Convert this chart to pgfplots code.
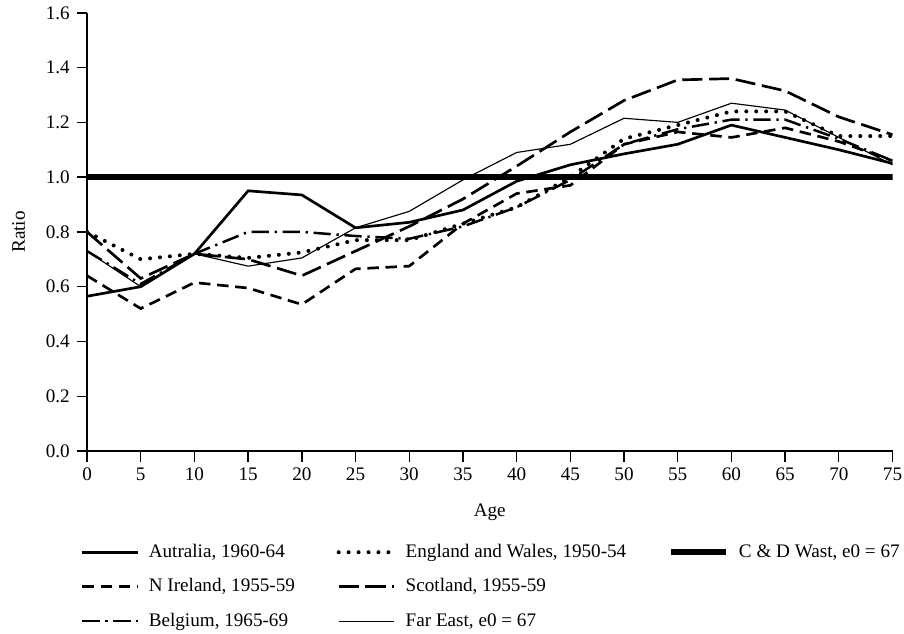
\documentclass[border=0pt]{standalone}
\usepackage{fontspec}
\setmainfont{Liberation Serif}
\usepackage{pgfplots}
\usepackage{pgfplotstable}
\pgfplotsset{compat=1.18}

% Ratio of age-specific rates to the reference pattern, by age group
\pgfplotstableread{
age  aus    eng    nir    sco    bel    fe
0    0.565  0.80   0.64   0.80   0.73   0.73
5    0.60   0.70   0.52   0.63   0.61   0.60
10   0.72   0.72   0.615  0.72   0.72   0.72
15   0.95   0.705  0.595  0.70   0.80   0.675
20   0.935  0.725  0.535  0.64   0.80   0.705
25   0.815  0.77   0.665  0.73   0.785  0.815
30   0.835  0.77   0.675  0.82   0.775  0.875
35   0.88   0.83   0.83   0.92   0.82   0.99
40   0.985  0.89   0.94   1.04   0.89   1.09
45   1.045  1.00   0.97   1.165  0.99   1.12
50   1.085  1.14   1.12   1.28   1.12   1.215
55   1.12   1.19   1.165  1.355  1.175  1.20
60   1.19   1.24   1.145  1.36   1.21   1.27
65   1.145  1.24   1.18   1.315  1.21   1.245
70   1.10   1.15   1.13   1.22   1.14   1.145
75   1.05   1.15   1.06   1.155  1.06   1.045
}\ratios

\begin{document}
\begin{tikzpicture}
\begin{axis}[
  scale only axis,
  width=421pt, height=229pt,
  xmin=0, xmax=75, ymin=0, ymax=1.6,
  axis lines=left,
  axis line style={-, line width=0.7pt},
  xtick={0,5,...,75},
  ytick={0,0.2,0.4,0.6,0.8,1.0,1.2,1.4,1.6},
  tick align=outside,
  major tick length=5.5pt,
  tick style={line width=0.7pt, black},
  /pgf/number format/assume math mode=true,
  xticklabel style={inner xsep=1pt},
  yticklabel style={/pgf/number format/.cd, fixed, fixed zerofill, precision=1},
  xlabel={Age}, ylabel={Ratio},
  xlabel style={yshift=-5pt},
  ylabel style={yshift=4pt},
  legend columns=3,
  legend cell align=left,
  legend image code/.code={\draw[#1] (0pt,0pt) -- (29pt,0pt);},
  legend style={
    at={(0,0)}, anchor=north west, yshift=-46.5pt, xshift=-3.3pt,
    draw=none, fill=none, inner sep=0pt,
    row sep=5.6pt,
    /tikz/every odd column/.append style={column sep=3pt},
    /tikz/every even column/.append style={column sep=19.8pt},
  },
]
\addplot[black, line width=1.4pt] table[x=age, y=aus] {\ratios};
\addlegendentry{Autralia, 1960-64}
\addplot[black, line width=2.1pt, line cap=round, dash pattern=on 0pt off 5.2pt] table[x=age, y=eng] {\ratios};
\addlegendentry{England and Wales, 1950-54}
\addplot[black, line width=3.1pt] coordinates {(0,1) (75,1)};
\addlegendentry{C \& D Wast, e0 = 67}
\addplot[black, line width=1.4pt, dash pattern=on 6pt off 3.5pt] table[x=age, y=nir] {\ratios};
\addlegendentry{N Ireland, 1955-59}
\addplot[black, line width=1.4pt, dash pattern=on 10.5pt off 3.5pt] table[x=age, y=sco] {\ratios};
\addlegendentry{Scotland, 1955-59}
\addlegendimage{empty legend}
\addlegendentry{}
\addplot[black, line width=1.3pt, dash pattern=on 9pt off 3pt on 1.2pt off 3pt] table[x=age, y=bel] {\ratios};
\addlegendentry{Belgium, 1965-69}
\addplot[black, line width=0.6pt] table[x=age, y=fe] {\ratios};
\addlegendentry{Far East, e0 = 67}
\end{axis}
% keep the left margin clear of the axis label
\path (current axis.south west) ++(-45.5pt,0pt);
\end{tikzpicture}
\end{document}
